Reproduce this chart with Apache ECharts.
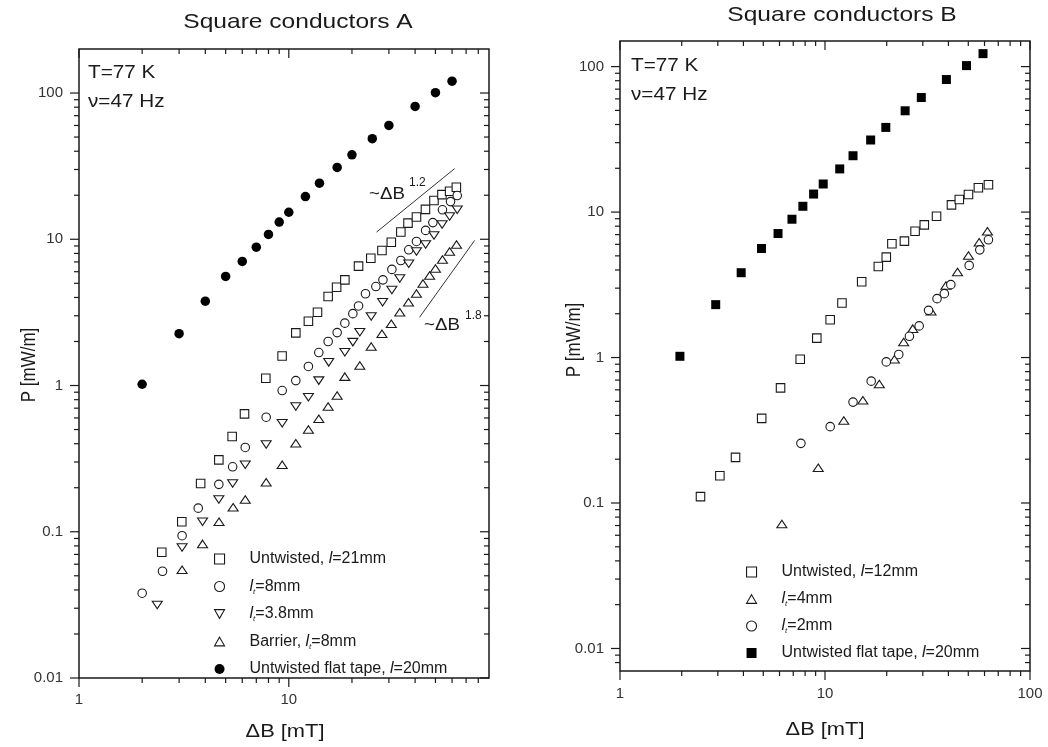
<!DOCTYPE html>
<html><head><meta charset="utf-8">
<script src="https://cdn.jsdelivr.net/npm/echarts@6/dist/echarts.min.js"></script>
<style>html,body{margin:0;padding:0;background:#fff}#c{width:1048px;height:747px}</style>
</head><body><div id="c"></div>
<script>
// ---------- Panel A: Square conductors A ----------
const bA_flat = [2,3,4,5,6,7,8,9,10,12,14,17,20,25,30,40,50,60];
const pA_flat = [1.02,2.26,3.77,5.57,7.05,8.83,10.8,13.1,15.3,19.6,24.2,31,37.8,48.7,60,81,100.5,120.6];
const bA_untw = [2.48,3.09,3.8,4.64,5.37,6.15,7.77,9.29,10.8,12.4,13.7,15.4,16.9,18.5,21.5,24.6,27.8,30.8,34.2,37,40.6,44.8,49.2,53.7,58.4,62.9];
const pA_untw = [0.0724,0.117,0.214,0.31,0.448,0.64,1.12,1.59,2.29,2.75,3.17,4.06,4.7,5.28,6.55,7.42,8.38,9.55,11.2,12.9,14.2,16.0,18.4,20.2,21.3,22.7];
const bA_lt8 = [2.0,2.5,3.1,3.7,4.64,5.4,6.2,7.8,9.3,10.8,12.4,13.9,15.4,17,18.5,20.2,21.5,23.2,26,28.1,31,34.2,37.3,40.6,44.9,48.6,54,59,63.5];
const pA_lt8 = [0.038,0.0537,0.094,0.145,0.211,0.278,0.377,0.607,0.924,1.08,1.35,1.68,2.0,2.3,2.67,3.1,3.5,4.24,4.75,5.28,6.22,7.16,8.47,9.66,11.5,13,15.9,18.1,19.9];
const bA_lt38 = [2.36,3.1,3.88,4.64,5.4,6.2,7.8,9.3,10.8,12.4,13.9,15.5,18.5,20.2,21.8,24.7,28,31,33.8,37.3,40.6,44.9,49.2,53.8,58.4,63.5];
const pA_lt38 = [0.0316,0.078,0.117,0.166,0.214,0.287,0.395,0.552,0.718,0.832,1.08,1.44,1.69,1.98,2.31,2.96,3.71,4.5,5.4,6.8,8.26,9.2,10.6,12.6,14.3,15.9];
const bA_barr = [3.1,3.88,4.65,5.43,6.2,7.8,9.3,10.8,12.4,13.9,15.4,17,18.5,21.8,24.7,27.8,30.8,33.8,37.2,40.6,43.6,46.9,50,54,58.4,63];
const pA_barr = [0.0549,0.0826,0.117,0.147,0.166,0.218,0.287,0.403,0.50,0.592,0.718,0.855,1.15,1.37,1.85,2.26,2.64,3.17,3.71,4.26,4.99,5.65,6.31,7.28,8.26,9.2];
const guide12 = [[26.2,11.2],[61.7,30.4]];
const guide18 = [[42,2.93],[76.9,9.82]];

// ---------- Panel B: Square conductors B ----------
const bB_flat = [1.96,2.93,3.9,4.9,5.9,6.9,7.8,8.8,9.8,11.8,13.7,16.7,19.8,24.6,29.5,39.1,49,59];
const pB_flat = [1.02,2.31,3.83,5.62,7.12,8.93,10.96,13.3,15.6,19.8,24.4,31.3,38.2,49.7,61.3,81.5,101.6,122.8];
const bB_untw = [2.47,3.07,3.66,4.91,6.07,7.57,9.12,10.6,12.1,15.1,18.2,19.9,21.2,24.4,27.5,30.5,35,41.4,45.2,50.1,56,62.7];
const pB_untw = [0.1106,0.154,0.206,0.382,0.619,0.973,1.36,1.82,2.37,3.32,4.23,4.9,6.05,6.31,7.38,8.17,9.36,11.2,12.2,13.2,14.7,15.4];
const bB_lt4 = [6.16,9.27,12.35,15.3,18.4,21.8,24.2,26.8,32.9,38.9,44.3,50.1,56.5,62];
const pB_lt4 = [0.0716,0.175,0.369,0.509,0.658,0.973,1.28,1.58,2.08,3.13,3.87,5.03,6.21,7.38];
const bB_lt2 = [7.63,10.6,13.7,16.8,19.9,22.9,25.8,28.8,32,35.2,38.2,41.1,50.5,56.9,62.7];
const pB_lt2 = [0.257,0.335,0.494,0.688,0.933,1.05,1.40,1.65,2.11,2.54,2.75,3.17,4.3,5.5,6.45];

// ---------- axis ranges and tick labels ----------
const xRangeA = [1, 90], yRangeA = [0.01, 200];
const xRangeB = [1, 100], yRangeB = [0.007, 150];
const xTickLabelsA = ['1','10'];
const yTickLabelsA = ['0.01','0.1','1','10','100'];
const xTickLabelsB = ['1','10','100'];
const yTickLabelsB = ['0.01','0.1','1','10','100'];
const decades = [0.001,0.01,0.1,1,10,100];

const FONT = '"Liberation Sans", Arial, sans-serif';
const INK = '#1a1a1a';
const TRI_UP = 'path://M5,0L10,8.66L0,8.66Z';
const TRI_DOWN = 'path://M0,0L10,0L5,8.66Z';

function zip(xs, ys){ return xs.map((x,i)=>[x, ys[i]]); }
function majorsIn(r){ return decades.filter(d => d >= r[0]*0.999 && d <= r[1]*1.001); }
function minorsIn(r){ const out=[]; decades.forEach(d=>{ for(let k=2;k<=9;k++){ const v=+(k*d).toPrecision(6); if(v>r[0]*1.0001 && v<r[1]*0.9999) out.push(v);} }); return out; }

function tickSeries(gi, axis, xr, yr){
  const rng = axis==='x' ? xr : yr;
  const data = [];
  majorsIn(rng).forEach(v => data.push(axis==='x' ? [v, yr[0], 1] : [xr[0], v, 1]));
  minorsIn(rng).forEach(v => data.push(axis==='x' ? [v, yr[0], 0] : [xr[0], v, 0]));
  return {
    type:'custom', xAxisIndex: gi, yAxisIndex: gi, silent:true, clip:false, z: 10,
    dimensions:['x','y','m'], encode:{x:0, y:1}, data,
    renderItem(params, api){
      const L = api.value(2) === 1 ? 9 : 5;
      const st = {stroke: INK, lineWidth: 1.2};
      if (axis === 'x'){
        const v = api.value(0);
        const b = api.coord([v, yr[0]]), t = api.coord([v, yr[1]]);
        return {type:'group', children:[
          {type:'line', shape:{x1:b[0], y1:b[1], x2:b[0], y2:b[1]+L}, style:st},
          {type:'line', shape:{x1:t[0], y1:t[1], x2:t[0], y2:t[1]+L}, style:st}
        ]};
      } else {
        const v = api.value(1);
        const l = api.coord([xr[0], v]), r = api.coord([xr[1], v]);
        return {type:'group', children:[
          {type:'line', shape:{x1:l[0]-L, y1:l[1], x2:l[0], y2:l[1]}, style:st},
          {type:'line', shape:{x1:r[0]-L, y1:r[1], x2:r[0], y2:r[1]}, style:st}
        ]};
      }
    }
  };
}

function labelFmt(list){ return v => { const s = String(+(+v).toPrecision(6)); return list.indexOf(s) >= 0 ? s : ''; }; }

function xAx(gi, r, labels, margin){
  return {type:'log', logBase:10, gridIndex:gi, min:r[0], max:r[1],
    axisLine:{show:false}, axisTick:{show:false}, splitLine:{show:false}, minorTick:{show:false},
    axisLabel:{fontFamily:FONT, fontSize:15, color:'#333', margin, formatter: labelFmt(labels), showMinLabel:true, showMaxLabel:true}};
}
function yAx(gi, r, labels){
  return {type:'log', logBase:10, gridIndex:gi, min:r[0], max:r[1],
    axisLine:{show:false}, axisTick:{show:false}, splitLine:{show:false}, minorTick:{show:false},
    axisLabel:{fontFamily:FONT, fontSize:15, color:'#333', margin:16, formatter: labelFmt(labels), showMinLabel:true, showMaxLabel:true}};
}

function openSc(name, gi, data, symbol, size, opts){
  return Object.assign({
    name, type:'scatter', xAxisIndex:gi, yAxisIndex:gi, data, symbol, symbolSize:size, symbolKeepAspect:true,
    itemStyle:{color:'#fff', borderColor:INK, borderWidth:1.1, opacity:1}, z:5, silent:true
  }, opts||{});
}
function fillSc(name, gi, data, symbol, size){
  return {name, type:'scatter', xAxisIndex:gi, yAxisIndex:gi, data, symbol, symbolSize:size,
    itemStyle:{color:'#000', borderWidth:0, opacity:1}, z:5, silent:true};
}

const legendRich = {
  sp:{width:20},
  i:{fontStyle:'italic', fontFamily:FONT, fontSize:16, color:INK, lineHeight:18},
  sub:{fontStyle:'italic', fontFamily:FONT, fontSize:8, color:INK, lineHeight:8, verticalAlign:'bottom'},
  n:{fontFamily:FONT, fontSize:16, color:INK, lineHeight:18}
};
const legendText = {
  'Untwisted, l=21mm':'{sp|}{n|Untwisted, }{i|l}{n|=21mm}',
  'lt=8mm':'{sp|}{i|l}{sub|t}{n|=8mm}',
  'lt=3.8mm':'{sp|}{i|l}{sub|t}{n|=3.8mm}',
  'Barrier, lt=8mm':'{sp|}{n|Barrier, }{i|l}{sub|t}{n|=8mm}',
  'Untwisted flat tape, l=20mm':'{sp|}{n|Untwisted flat tape, }{i|l}{n|=20mm}',
  'Untwisted, l=12mm':'{sp|}{n|Untwisted, }{i|l}{n|=12mm}',
  'lt=4mm':'{sp|}{i|l}{sub|t}{n|=4mm}',
  'lt=2mm':'{sp|}{i|l}{sub|t}{n|=2mm}',
  'Untwisted flat tape, l=20mm ':'{sp|}{n|Untwisted flat tape, }{i|l}{n|=20mm}'
};
function legendCfg(names, left, top, gap){
  return {orient:'vertical', left, top, itemGap:gap, itemWidth:10, itemHeight:10, selectedMode:false,
    itemStyle:{borderWidth:1.1},
    data:names, formatter: n => legendText[n] || n,
    textStyle:{fontFamily:FONT, fontSize:16, color:INK, lineHeight:18, rich:legendRich}};
}

function txt(x, y, text, size, opts){
  return Object.assign({type:'text', x, y, silent:true,
    style:{text, fontFamily:FONT, fontSize:size, fill:INK, align:'left', verticalAlign:'middle'}}, opts||{});
}
function ctxt(x, y, text, size, sx, opts){
  const o = txt(x, y, text, size, opts);
  o.style.align = 'center'; o.scaleX = sx;
  return o;
}

const chart = echarts.init(document.getElementById('c'), null, {renderer:'canvas'});
chart.setOption({
  animation:false,
  backgroundColor:'#fff',
  grid:[
    {left:79, top:49, width:410, height:629, show:true, borderColor:INK, borderWidth:1.5, backgroundColor:'transparent'},
    {left:620, top:41, width:410, height:630, show:true, borderColor:INK, borderWidth:1.5, backgroundColor:'transparent'}
  ],
  xAxis:[xAx(0, xRangeA, xTickLabelsA, 14), xAx(1, xRangeB, xTickLabelsB, 15)],
  yAxis:[yAx(0, yRangeA, yTickLabelsA), yAx(1, yRangeB, yTickLabelsB)],
  legend:[
    legendCfg(['Untwisted, l=21mm','lt=8mm','lt=3.8mm','Barrier, lt=8mm','Untwisted flat tape, l=20mm'], 209, 545, 9.5),
    legendCfg(['Untwisted, l=12mm','lt=4mm','lt=2mm','Untwisted flat tape, l=20mm '], 741, 558, 9)
  ],
  series:[
    openSc('Untwisted, l=21mm', 0, zip(bA_untw, pA_untw), 'rect', 8.5),
    openSc('lt=8mm', 0, zip(bA_lt8, pA_lt8), 'circle', 8.5),
    openSc('lt=3.8mm', 0, zip(bA_lt38, pA_lt38), TRI_DOWN, [10, 8.66]),
    openSc('Barrier, lt=8mm', 0, zip(bA_barr, pA_barr), TRI_UP, [10, 8.66]),
    fillSc('Untwisted flat tape, l=20mm', 0, zip(bA_flat, pA_flat), 'circle', 9.5),
    {type:'line', xAxisIndex:0, yAxisIndex:0, data:guide12, symbol:'none', silent:true, lineStyle:{color:'#333', width:1}},
    {type:'line', xAxisIndex:0, yAxisIndex:0, data:guide18, symbol:'none', silent:true, lineStyle:{color:'#333', width:1}},
    openSc('Untwisted, l=12mm', 1, zip(bB_untw, pB_untw), 'rect', 8.5),
    openSc('lt=4mm', 1, zip(bB_lt4, pB_lt4), TRI_UP, [10, 8.66]),
    openSc('lt=2mm', 1, zip(bB_lt2, pB_lt2), 'circle', 8.5),
    fillSc('Untwisted flat tape, l=20mm ', 1, zip(bB_flat, pB_flat), 'rect', 9),
    tickSeries(0,'x',xRangeA,yRangeA), tickSeries(0,'y',xRangeA,yRangeA),
    tickSeries(1,'x',xRangeB,yRangeB), tickSeries(1,'y',xRangeB,yRangeB)
  ],
  graphic:[
    ctxt(298, 22, 'Square conductors A', 21, 1.17),
    ctxt(842, 15, 'Square conductors B', 21, 1.17),
    ctxt(285, 732, 'ΔB [mT]', 19, 1.15),
    ctxt(825, 730, 'ΔB [mT]', 19, 1.15),
    ctxt(30, 365, 'P [mW/m]', 17, 1, {rotation:Math.PI/2, scaleY:1.15}),
    ctxt(575, 340, 'P [mW/m]', 17, 1, {rotation:Math.PI/2, scaleY:1.15}),
    txt(88, 73, 'T=77 K', 18, {scaleX:1.15}),
    txt(88, 102, 'ν=47 Hz', 18, {scaleX:1.15}),
    txt(631, 66, 'T=77 K', 18, {scaleX:1.15}),
    txt(631, 95, 'ν=47 Hz', 18, {scaleX:1.15}),
    txt(369, 194, '~ΔB', 17, {scaleX:1.1}),
    txt(409, 183, '1.2', 12),
    txt(424, 325, '~ΔB', 17, {scaleX:1.1}),
    txt(465, 316, '1.8', 12)
  ]
});
</script></body></html>
